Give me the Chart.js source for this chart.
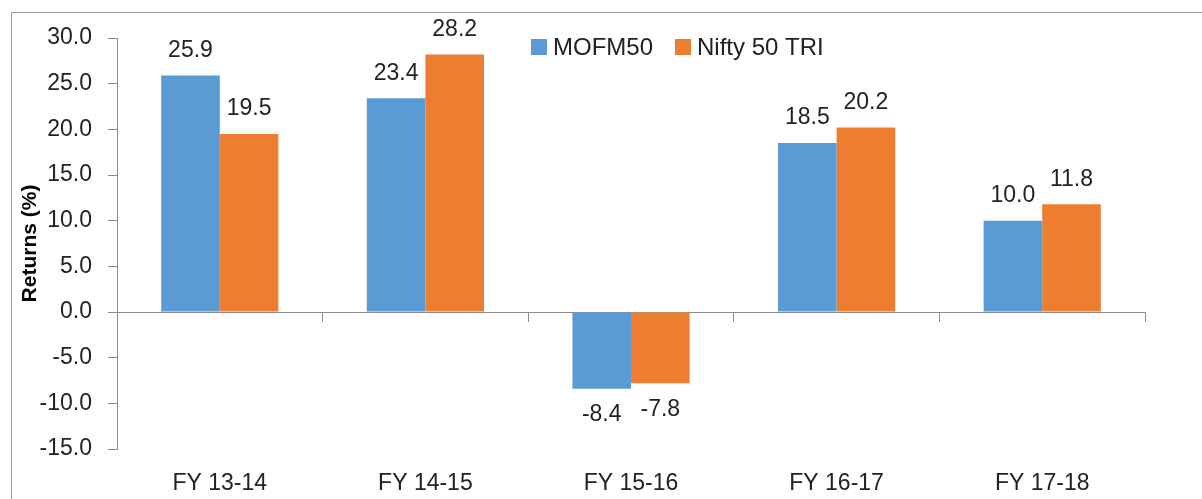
<!DOCTYPE html>
<html>
<head>
<meta charset="utf-8">
<script src="https://cdn.jsdelivr.net/npm/chart.js@4/dist/chart.umd.min.js"></script>
<style>
  html, body { margin: 0; padding: 0; background: #fff; overflow: hidden; }
  #wrap { width: 1202px; height: 499px; position: relative; }
</style>
</head>
<body>
<div id="wrap"><canvas id="chart"></canvas></div>
<script>
// Chart data
const categories = ['FY 13-14', 'FY 14-15', 'FY 15-16', 'FY 16-17', 'FY 17-18'];
const mofm50 = [25.9, 23.4, -8.4, 18.5, 10.0];
const nifty50Tri = [19.5, 28.2, -7.8, 20.2, 11.8];
const seriesNames = ['MOFM50', 'Nifty 50 TRI'];
const seriesColors = ['#5B9BD5', '#ED7D31'];

const FONT = "'Liberation Sans', Arial, sans-serif";
const TEXT = '#222222';
const AXIS = '#8c8c8c';

// Outer chart frame (only top/left edges are visible in the crop)
const framePlugin = {
  id: 'frame',
  beforeDraw(chart) {
    const ctx = chart.ctx;
    ctx.save();
    ctx.strokeStyle = '#9a9a9a';
    ctx.lineWidth = 1;
    ctx.beginPath();
    ctx.moveTo(11.5, chart.height);
    ctx.lineTo(11.5, 12.5);
    ctx.lineTo(chart.width, 12.5);
    ctx.stroke();
    ctx.restore();
  }
};

// Value labels above positive bars, below negative ones
const valueLabels = {
  id: 'valueLabels',
  afterDatasetsDraw(chart) {
    const ctx = chart.ctx;
    ctx.save();
    ctx.font = '23px ' + FONT;
    ctx.fillStyle = TEXT;
    ctx.textAlign = 'center';
    ctx.textBaseline = 'middle';
    chart.data.datasets.forEach((ds, i) => {
      chart.getDatasetMeta(i).data.forEach((bar, j) => {
        const v = ds.data[j];
        const y = v >= 0 ? bar.y - 25 : bar.y + 26;
        ctx.fillText(v.toFixed(1), bar.x, y);
      });
    });
    ctx.restore();
  }
};

// Legend drawn inside the plot area, like the original
const insideLegend = {
  id: 'insideLegend',
  afterDraw(chart) {
    const ctx = chart.ctx;
    ctx.save();
    ctx.font = '24px ' + FONT;
    ctx.textBaseline = 'middle';
    let x = 531;
    const y = 47;
    chart.data.datasets.forEach(ds => {
      ctx.fillStyle = ds.backgroundColor;
      ctx.fillRect(x, y - 8, 16, 16);
      x += 22;
      ctx.fillStyle = TEXT;
      ctx.fillText(ds.label, x, y + 1);
      x += ctx.measureText(ds.label).width + 22;
    });
    ctx.restore();
  }
};

new Chart(document.getElementById('chart'), {
  type: 'bar',
  data: {
    labels: categories,
    datasets: [
      { label: seriesNames[0], data: mofm50, backgroundColor: seriesColors[0] },
      { label: seriesNames[1], data: nifty50Tri, backgroundColor: seriesColors[1] }
    ]
  },
  options: {
    responsive: true,
    maintainAspectRatio: false,
    animation: false,
    categoryPercentage: 0.57,
    barPercentage: 1.0,
    layout: { padding: { top: 38, right: 57, bottom: 0, left: 0 } },
    plugins: {
      legend: { display: false },
      tooltip: { enabled: false }
    },
    scales: {
      x: {
        grid: { display: false, drawTicks: false },
        border: { display: false },
        ticks: { color: TEXT, font: { family: FONT, size: 23 }, padding: 21 },
        afterFit(scale) { scale.height = 50; }
      },
      x2: {
        type: 'category',
        labels: categories,
        position: { y: 0 },
        offset: true,
        grid: { offset: true, drawOnChartArea: false, drawTicks: true, tickLength: 9, color: AXIS },
        border: { display: true, color: AXIS },
        ticks: { display: false }
      },
      y: {
        min: -15,
        max: 30,
        ticks: {
          stepSize: 5,
          color: TEXT,
          font: { family: FONT, size: 23 },
          padding: 16,
          callback: v => v.toFixed(1)
        },
        grid: { drawOnChartArea: false, drawTicks: true, tickLength: 9, color: AXIS },
        border: { display: true, color: AXIS },
        title: {
          display: true,
          text: 'Returns (%)',
          color: '#000',
          font: { family: FONT, size: 21, weight: 'bold' },
          padding: { top: 18, bottom: 0 }
        },
        afterFit(scale) { scale.width = 117; }
      }
    }
  },
  plugins: [framePlugin, valueLabels, insideLegend]
});
</script>
</body>
</html>
